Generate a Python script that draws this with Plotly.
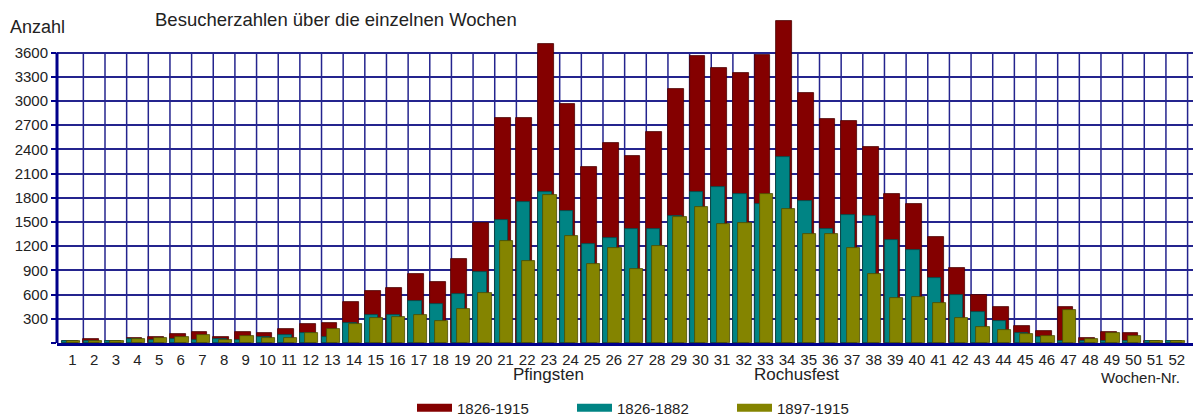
import plotly.graph_objects as go

# ---------------- data ----------------
weeks = list(range(1, 53))
week_labels = [str(w) for w in weeks]

series_names = ["1826-1915", "1826-1882", "1897-1915"]

visitors_1826_1915 = [30, 45, 28, 62, 74, 107, 136, 74, 136, 120,
                      169, 240, 254, 508, 644, 677, 851, 760, 1037, 1491,
                      2784, 2784, 3701, 2957, 2185, 2474, 2321, 2610, 3147, 3552,
                      3403, 3341, 3568, 3985, 3101, 2771, 2754, 2425, 1842, 1722,
                      1317, 925, 595, 450, 211, 149, 450, 58, 132, 118,
                      20, 20]

visitors_1826_1882 = [28, 30, 25, 46, 37, 46, 37, 54, 37, 70,
                      99, 120, 78, 254, 347, 347, 520, 487, 603, 876,
                      1528, 1751, 1875, 1636, 1223, 1305, 1409, 1409, 1573, 1875,
                      1933, 1842, 1722, 2304, 1759, 1412, 1586, 1573, 1276, 1152,
                      809, 595, 388, 273, 128, 80, 30, 30, 20, 22,
                      25, 25]

visitors_1897_1915 = [25, 25, 30, 50, 58, 78, 103, 37, 91, 62,
                      58, 120, 178, 238, 306, 322, 347, 273, 421, 616,
                      1264, 1020, 1834, 1322, 975, 1173, 913, 1202, 1557, 1681,
                      1470, 1483, 1842, 1664, 1350, 1350, 1173, 855, 554, 566,
                      492, 314, 194, 161, 107, 87, 405, 46, 120, 89,
                      20, 25]

y_tick_values = [0, 300, 600, 900, 1200, 1500, 1800, 2100, 2400, 2700, 3000, 3300, 3600]
y_tick_labels = ["", "300", "600", "900", "1200", "1500", "1800", "2100",
                 "2400", "2700", "3000", "3300", "3600"]

event_labels = ["Pfingsten", "Rochusfest"]
event_weeks = [23, 34.45]

# ---------------- style ----------------
FONT = "Liberation Sans, Arial, sans-serif"
TXT = "#222222"
GRID = "#24248e"
AXIS = "#00008b"
colors = ["#840000", "#008484", "#848400"]
edges = ["#4a0000", "#004a4a", "#4a4a00"]
offsets = [-0.5, -0.49, -0.25]
widths = [0.73, 0.62, 0.61]

series = [visitors_1826_1915, visitors_1826_1882, visitors_1897_1915]

fig = go.Figure()

for name, vals, c, e, off, w in zip(series_names, series, colors, edges, offsets, widths):
    fig.add_trace(go.Bar(
        x=weeks, y=vals, name=name,
        offset=off, width=w,
        marker=dict(color=c, line=dict(width=0.8, color=e)),
        showlegend=False,
        hovertemplate="Woche %{x}: %{y}<extra>" + name + "</extra>",
    ))

# legend entries with wide flat swatches
for name, c in zip(series_names, colors):
    fig.add_trace(go.Scatter(
        x=[None], y=[None], mode="lines", name=name,
        line=dict(color=c, width=8), hoverinfo="skip",
    ))

shapes = []
# vertical grid lines at the week boundaries, stopping at the top tick
for w in weeks:
    shapes.append(dict(type="line", xref="x", yref="y",
                       x0=w + 0.5, x1=w + 0.5, y0=0, y1=y_tick_values[-1],
                       line=dict(color=GRID, width=1.5), layer="below"))
# value axis line
shapes.append(dict(type="line", xref="paper", yref="y",
                   x0=0, x1=0, y0=0, y1=y_tick_values[-1],
                   line=dict(color=AXIS, width=3), layer="above"))

annotations = [
    dict(text="Besucherzahlen über die einzelnen Wochen", xref="paper", yref="paper",
         x=0.0845, y=1.003, xanchor="left", yanchor="middle", showarrow=False,
         font=dict(family=FONT, size=18.5, color=TXT)),
    dict(text="Anzahl", xref="paper", yref="paper",
         x=-0.043, y=0.977, xanchor="left", yanchor="middle", showarrow=False,
         font=dict(family=FONT, size=18, color=TXT)),
    dict(text="Wochen-Nr.", xref="x", yref="paper",
         x=52.23, y=-0.108, xanchor="right", yanchor="middle", showarrow=False,
         font=dict(family=FONT, size=15, color=TXT)),
]
for lab, wk in zip(event_labels, event_weeks):
    annotations.append(dict(text=lab, xref="x", yref="paper",
                            x=wk, y=-0.099, xanchor="center", yanchor="middle",
                            showarrow=False,
                            font=dict(family=FONT, size=17, color=TXT)))

fig.update_layout(
    width=1193, height=416,
    margin=dict(l=57, r=0, t=20, b=73, pad=0, autoexpand=False),
    plot_bgcolor="white", paper_bgcolor="white",
    barmode="overlay", bargap=0,
    font=dict(family=FONT, size=15, color=TXT),
    shapes=shapes, annotations=annotations,
    showlegend=True,
    legend=dict(orientation="h", x=0.3125, xanchor="left", y=-0.201, yanchor="middle",
                font=dict(family=FONT, size=15, color=TXT),
                entrywidth=110, entrywidthmode="pixels", itemwidth=35,
                bgcolor="rgba(0,0,0,0)", tracegroupgap=0),
    xaxis=dict(range=[0.283, 52.75], tickmode="array", tickvals=weeks, ticktext=week_labels,
               showgrid=False, zeroline=False, showline=True, linecolor=AXIS, linewidth=3,
               ticks="", ticklabelstandoff=1,
               tickfont=dict(family=FONT, size=15, color=TXT), fixedrange=True),
    yaxis=dict(range=[0, 4003], tickmode="array", tickvals=y_tick_values, ticktext=y_tick_labels,
               showgrid=True, gridcolor=GRID, gridwidth=1.5, zeroline=False, showline=False,
               ticks="outside", ticklen=5, tickwidth=1.5, tickcolor=AXIS,
               tickfont=dict(family=FONT, size=15, color=TXT), fixedrange=True),
)

fig.write_html("out.html", config={"displayModeBar": False},
               post_script="document.body.style.margin='0';")
